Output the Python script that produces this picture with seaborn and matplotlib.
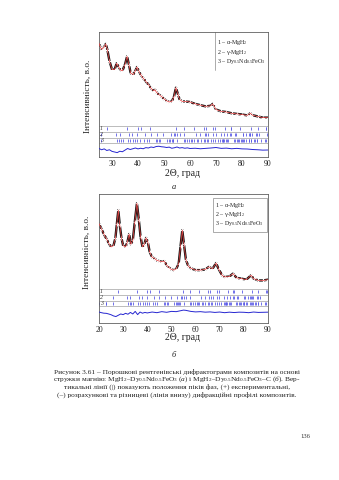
import matplotlib
matplotlib.use("Agg")
import matplotlib.pyplot as plt
import seaborn as sns
import pandas as pd

# --- profile (a): MgH2–Dy0.5Nd0.5FeO3 -------------------------------------
two_theta_a = [25, 25.5, 26, 26.5, 27, 27.6, 28.2, 29, 30, 31, 31.8, 32.6, 33.3, 34, 35,
               35.8, 36.5, 37.2, 38.2, 39, 39.6, 40.3, 41, 42, 43, 44, 45, 46, 46.6, 47,
               48, 49, 50, 51, 52, 53, 53.8, 54.6, 55.4, 56, 57, 58, 60, 62, 64, 66, 68,
               68.7, 69.5, 70, 72, 74, 76, 78, 80, 82, 83.2, 84, 86, 88, 90]
obs_a = [91, 88, 86, 87, 88, 90.5, 86, 77, 70, 70, 75, 72, 69.5, 69, 74,
         80.5, 74, 67, 66, 69, 72, 69, 66, 63, 60.5, 58, 55, 53, 53.8, 52,
         50, 48.5, 46.5, 45, 44, 44.5, 48, 55.5, 50, 46, 44.5, 44.5, 44, 42.5, 41.5, 40.5, 41,
         42.5, 40, 38, 36.5, 36, 35, 34.5, 34, 33.3, 35, 33.5, 32.5, 31.5, 31.5]
calc_a = obs_a

diff_theta_a = [25, 26, 27, 28, 29, 30, 31, 32, 33, 34, 35, 36, 37, 38, 39, 40, 41, 42, 43,
                44, 45, 46, 47, 48, 49, 50, 51, 52, 53, 54, 55, 56, 57, 58, 59, 60, 62, 64,
                66, 68, 70, 72, 74, 76, 78, 80, 82, 84, 86, 88, 90]
diff_a = [6.8, 5.8, 6.5, 5.2, 5.8, 4.5, 4.0, 3.5, 4.6, 4.2, 5.5, 6.8, 6.0, 6.6, 7.2, 6.5,
          7.0, 6.6, 7.5, 7.2, 8.0, 7.6, 8.4, 8.6, 8.2, 8.0, 7.6, 7.9, 7.0, 7.4, 8.0, 7.2,
          7.5, 7.0, 7.3, 6.8, 7.0, 6.6, 6.9, 7.2, 7.6, 6.9, 7.1, 6.6, 6.9, 6.5, 6.4, 6.0,
          5.8, 5.5, 5.6]

# --- profile (b): MgH2–Dy0.5Nd0.5FeO3–C -----------------------------------
two_theta_b = [20, 21, 22, 23, 24, 25, 26, 26.8, 27.4, 28, 28.6, 29.3, 30, 31, 31.8, 32.5,
               33.2, 34, 34.8, 35.7, 36.5, 37.2, 38, 38.8, 39.5, 40.2, 41, 42, 43, 44, 45,
               46, 47, 48, 49, 50, 51, 52, 53, 53.8, 54.5, 55.2, 56, 57, 58, 60, 62, 64,
               65.5, 67, 68.5, 69.5, 71, 72, 74, 75.5, 77, 79, 81, 83, 84, 86, 88, 90]
obs_b = [77, 73, 69, 65.5, 62, 59, 60, 66, 77, 87.5, 76, 66, 60, 59, 63, 69,
         61, 64, 78, 92.8, 80, 67, 59, 61, 66, 63, 55, 51, 50, 48.5, 48,
         47.5, 48, 45, 43, 41.5, 41, 42, 46, 60, 72, 61, 49, 44, 42.5, 41, 41, 41.5,
         43.5, 42, 46.5, 42, 37, 35.7, 36, 38.3, 35, 34.4, 33.6, 37, 34.5, 33, 33, 33.6]
calc_b = obs_b

diff_theta_b = [20, 21, 22, 23, 24, 25, 26, 27, 28, 29, 30, 31, 32, 33, 34, 35, 36, 37, 38,
                39, 40, 42, 44, 46, 48, 50, 52, 54, 55, 56, 58, 60, 62, 64, 66, 68, 70, 72,
                74, 76, 78, 80, 82, 84, 86, 88, 90]
diff_b = [8.5, 8.0, 7.6, 7.5, 7.0, 6.4, 5.5, 5.0, 6.0, 7.0, 6.5, 7.5, 6.8, 8.2, 7.0, 9.0,
          6.5, 8.5, 7.6, 8.2, 7.8, 8.5, 8.0, 8.8, 8.3, 9.0, 8.8, 9.6, 10.0, 9.8, 9.0, 8.6,
          8.8, 8.4, 8.6, 8.2, 8.5, 8.0, 8.4, 8.1, 8.4, 8.3, 8.0, 8.5, 8.2, 8.3, 8.4]

# --- Bragg positions of the phases (2θ, deg) -------------------------------
alpha_mgh2 = [27.9, 35.7, 39.9, 41.1, 44.8, 54.6, 57.7, 61.4, 65.3, 66.1, 68.7, 69.7,
              73.3, 75.7, 75.9, 79.1, 83.5, 86.0, 89.2, 89.4]
gamma_mgh2 = [25.6, 31.4, 32.9, 36.4, 37.7, 39.8, 42.8, 45.0, 47.2, 49.8, 52.5, 54.0,
              54.4, 55.0, 56.0, 57.8, 62.4, 64.0, 65.6, 66.3, 67.1, 68.9, 69.9, 71.9,
              73.1, 74.3, 75.3, 75.9, 77.3, 77.7, 80.2, 80.5, 81.7, 82.6, 82.9, 83.2,
              83.8, 85.4, 85.8, 86.5, 89.8]
dy_nd_feo3 = [20.1, 22.9, 23.1, 25.7, 32.0, 32.8, 33.3, 34.1, 36.2, 37.1, 38.1, 38.9,
              39.8, 40.9, 42.2, 43.4, 44.1, 46.8, 47.2, 48.1, 48.4, 51.2, 51.9, 52.3,
              52.9, 53.3, 53.6, 55.1, 57.5, 58.2, 59.0, 59.8, 60.4, 60.9, 61.5, 62.7,
              63.2, 64.1, 65.2, 65.6, 66.5, 66.9, 68.1, 68.7, 69.7, 70.7, 71.7, 72.2,
              72.6, 72.8, 73.2, 73.9, 74.3, 74.7, 76.8, 77.3, 77.9, 78.6, 78.9, 79.5,
              80.0, 80.2, 80.9, 81.5, 82.6, 82.8, 83.4, 83.6, 84.8, 85.1, 85.7, 85.9,
              87.3, 88.7, 89.3, 89.9]
phase_lists = [alpha_mgh2, gamma_mgh2, dy_nd_feo3]

x_ticks_a = [30, 40, 50, 60, 70, 80, 90]
x_ticks_b = [20, 30, 40, 50, 60, 70, 80, 90]

legend_lines = [r"$\it{1}$ – α-MgH$_2$",
                r"$\it{2}$ – γ-MgH$_2$",
                r"$\it{3}$ – Dy$_{0.5}$Nd$_{0.5}$FeO$_3$"]
y_label = "Інтенсивність, в.о."
x_label = "2Θ, град"
caption = [
    "Рисунок 3.61 – Порошкові рентгенівські дифрактограми композитів на основі",
    r"стружки магнію: MgH$_2$–Dy$_{0.5}$Nd$_{0.5}$FeO$_3$ ($\it{а}$) і MgH$_2$–Dy$_{0.5}$Nd$_{0.5}$FeO$_3$–C ($\it{б}$). Вер-",
    "тикальні лінії (|) показують положення піків фаз, (+) експериментальні,",
    "(–) розрахункові та різницеві (лінія внизу) дифракційні профілі композитів.",
]
page_number = "136"

sns.set_theme(style="white")
plt.rcParams["font.family"] = ["Liberation Serif", "DejaVu Serif"]
plt.rcParams["mathtext.fontset"] = "custom"
plt.rcParams["mathtext.rm"] = "Liberation Serif"
plt.rcParams["mathtext.it"] = "Liberation Serif:italic"
plt.rcParams["mathtext.bf"] = "Liberation Serif:bold"

W, H = 339, 480
fig = plt.figure(figsize=(W / 100, H / 100), dpi=100)
fig.patch.set_facecolor("white")

TICK_BLUE = "#5a5ae6"
DIFF_BLUE = "#2626d0"
SPINE = "#606060"


def panel(rect, tt, obs, calc, dt, diff, xlim, xticks, bands, leg_box, leg_y, leg_x,
          full_box):
    ax = fig.add_axes(rect)
    df_obs = pd.DataFrame({"t": tt, "I": obs})
    df_calc = pd.DataFrame({"t": tt, "I": calc})
    df_diff = pd.DataFrame({"t": dt, "I": diff})
    sns.lineplot(data=df_obs, x="t", y="I", ax=ax, color="#111111", lw=1.7,
                 marker="+", markersize=3.2, markeredgewidth=0.8, estimator=None,
                 sort=False, zorder=2)
    sns.lineplot(data=df_calc, x="t", y="I", ax=ax, color="#e04040", lw=0.55,
                 estimator=None, sort=False, zorder=3)
    sns.lineplot(data=df_diff, x="t", y="I", ax=ax, color=DIFF_BLUE, lw=0.7,
                 estimator=None, sort=False, zorder=3)
    # tick-mark rows for the three phases
    for i, pos in enumerate(phase_lists):
        top, bot = bands[i], bands[i + 1]
        span = top - bot
        p = [v for v in pos if xlim[0] <= v <= xlim[1]]
        ax.vlines(p, bot + 0.22 * span, top - 0.22 * span, color=TICK_BLUE, lw=0.6)
        ax.text(xlim[0] + 0.4, (top + bot) / 2, str(i + 1), fontsize=4.2,
                style="italic", va="center", ha="left", color="#333333")
    for b in bands:
        ax.axhline(b, color="#8a8a8a", lw=0.4)
    ax.set_xlim(*xlim)
    ax.set_ylim(0, 100)
    ax.set_xticks(xticks)
    ax.set_xticklabels([str(v) for v in xticks])
    ax.set_yticks([])
    ax.tick_params(axis="x", direction="in", length=2, width=0.5, pad=2,
                   labelsize=5.5, colors="#222222")
    for s in ax.spines.values():
        s.set_color(SPINE)
        s.set_linewidth(0.6)
    ax.set_xlabel("")
    ax.set_ylabel("")
    # phase legend
    x0, y0, x1, y1 = leg_box
    if full_box:
        ax.add_patch(plt.Rectangle((x0, y0), x1 - x0, y1 - y0, transform=ax.transAxes,
                                   fill=False, ec="#8a8a8a", lw=0.5, zorder=4))
    else:
        ax.plot([x0, x0], [y0, y1], transform=ax.transAxes, color="#8a8a8a", lw=0.5)
    for txt, yy in zip(legend_lines, leg_y):
        ax.text(leg_x, yy, txt, transform=ax.transAxes, fontsize=4.3, va="center",
                ha="left", color="#222222")
    return ax


ax_a = panel([99 / W, 1 - 157 / H, 169 / W, 125 / H], two_theta_a, obs_a, calc_a,
             diff_theta_a, diff_a, (25, 90), x_ticks_a, [24.8, 20.2, 15.6, 11.2],
             (0.686, 0.70, 1.0, 1.0), [0.914, 0.838, 0.762], 0.700, False)
ax_b = panel([99 / W, 1 - 323 / H, 169 / W, 129 / H], two_theta_b, obs_b, calc_b,
             diff_theta_b, diff_b, (20, 90), x_ticks_b, [26.4, 21.9, 17.4, 12.9],
             (0.675, 0.705, 0.995, 0.969), [0.914, 0.844, 0.772], 0.688, True)

# axis titles and panel letters
fig.text(88 / W, 1 - 96 / H, y_label, rotation=90, fontsize=6.7, ha="center",
         va="center", color="#222222")
fig.text(87 / W, 1 - 252 / H, y_label, rotation=90, fontsize=6.7, ha="center",
         va="center", color="#222222")
fig.text(183 / W, 1 - 174 / H, x_label, fontsize=7, ha="center", va="center",
         color="#222222")
fig.text(183 / W, 1 - 337 / H, x_label, fontsize=7, ha="center", va="center",
         color="#222222")
fig.text(174 / W, 1 - 187 / H, "а", fontsize=6, style="italic", ha="center",
         va="center", color="#222222")
fig.text(174 / W, 1 - 355 / H, "б", fontsize=6, style="italic", ha="center",
         va="center", color="#222222")

caption_y = [372, 379.6, 387.2, 394.4]
for yy, line in zip(caption_y, caption):
    fig.text(177 / W, 1 - yy / H, line, fontsize=5.3, ha="center",
             va="center", color="#222222")

fig.text(305 / W, 1 - 436 / H, page_number, fontsize=4.8, ha="center", va="center",
         color="#333333")

fig.savefig("out.png", dpi=100, facecolor="white")
